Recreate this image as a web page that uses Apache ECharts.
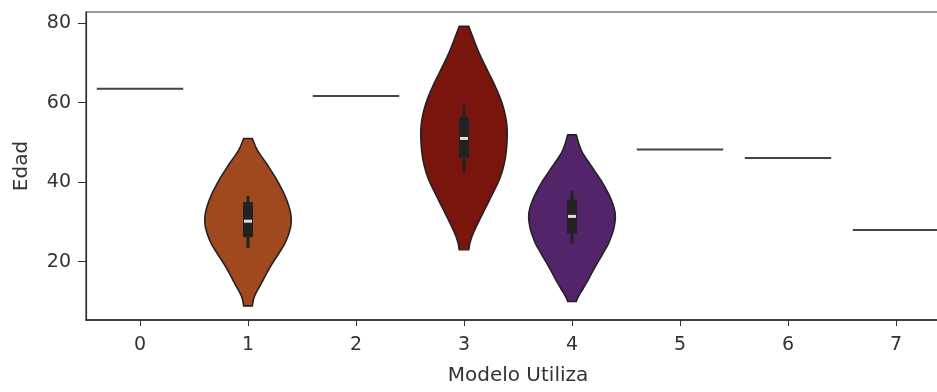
<!DOCTYPE html>
<html>
<head>
<meta charset="utf-8">
<script src="https://cdn.jsdelivr.net/npm/echarts@6/dist/echarts.min.js"></script>
<style>
  html, body { margin: 0; padding: 0; background: #fff; }
  #chart { width: 937px; height: 392px; }
</style>
</head>
<body>
<div id="chart"></div>
<script>
// ---- data ----
const categories = ['0', '1', '2', '3', '4', '5', '6', '7'];
const yTicks = [20, 40, 60, 80];

// categories with a single observation (drawn as a flat line)
const singleCats = [0, 2, 5, 6, 7];
const singleValues = [63.5, 61.7, 48.2, 46.1, 28];

// violins: outline as (age, relative half-width) pairs
const violinCats = [1, 3, 4];
const violin1Ages = [51.0, 48.0, 44.5, 40.5, 36.5, 33.0, 30.5, 28.0, 25.0, 22.9, 18.8, 14.6, 11.3, 8.9];
const violin1Dens = [0.10, 0.22, 0.44, 0.67, 0.86, 0.97, 1.0, 0.97, 0.87, 0.76, 0.52, 0.31, 0.15, 0.10];
const violin3Ages = [79.2, 73.0, 68.6, 64.4, 60.2, 56.0, 51.9, 46.3, 41.3, 36.4, 31.4, 27.3, 24.8, 23.0];
const violin3Dens = [0.11, 0.33, 0.52, 0.71, 0.87, 0.97, 1.0, 0.96, 0.84, 0.63, 0.40, 0.22, 0.14, 0.11];
const violin4Ages = [51.9, 47.9, 43.7, 39.6, 35.5, 32.0, 28.5, 25.0, 22.9, 18.8, 14.6, 11.3, 10.0];
const violin4Dens = [0.10, 0.22, 0.47, 0.72, 0.91, 1.0, 0.97, 0.86, 0.76, 0.54, 0.33, 0.15, 0.10];

// inner box stats: [whiskerLow, q1, median, q3, whiskerHigh]
const violin1Box = [23.5, 26.2, 30.2, 35.0, 36.5];
const violin3Box = [42.5, 46.1, 51.0, 56.4, 59.4];
const violin4Box = [24.6, 27.1, 31.4, 35.6, 37.7];

// ---- styling ----
const violinColors = ['#A0491E', '#7A150E', '#54246A'];
const violinAges = [violin1Ages, violin3Ages, violin4Ages];
const violinDens = [violin1Dens, violin3Dens, violin4Dens];
const violinBoxes = [violin1Box, violin3Box, violin4Box];

const FONT = 'DejaVu Sans';
const TXT = '#333333';

const chart = echarts.init(document.getElementById('chart'), null, { renderer: 'canvas' });

// smooth a pixel polyline for drawing (Catmull-Rom through the given points)
function smoothLine(pts, n) {
  const out = [];
  const L = pts.length;
  for (let i = 0; i < L - 1; i++) {
    const p0 = pts[Math.max(i - 1, 0)], p1 = pts[i], p2 = pts[i + 1], p3 = pts[Math.min(i + 2, L - 1)];
    for (let s = 0; s < n; s++) {
      const t = s / n, t2 = t * t, t3 = t2 * t;
      const f = (a, b, c, d) => 0.5 * (2 * b + (-a + c) * t + (2 * a - 5 * b + 4 * c - d) * t2 + (-a + 3 * b - 3 * c + d) * t3);
      out.push([f(p0[0], p1[0], p2[0], p3[0]), f(p0[1], p1[1], p2[1], p3[1])]);
    }
  }
  out.push(pts[L - 1]);
  return out;
}

function renderViolin(params, api) {
  const i = params.dataIndex;
  const cat = api.value(0);
  const c = api.coord([cat, api.value(1)]);
  const band = api.size([1, 0])[0];
  const half = band * 0.4;
  const ages = violinAges[i], dens = violinDens[i];
  const rightRaw = ages.map((a, k) => [c[0] + dens[k] * half, api.coord([cat, a])[1]]);
  const right = smoothLine(rightRaw, 8);
  const left = right.slice().reverse().map(p => [2 * c[0] - p[0], p[1]]);
  const pts = right.concat(left);
  const b = violinBoxes[i].map(v => api.coord([cat, v])[1]);
  const boxW = 10, medW = 8, medH = 3;
  return {
    type: 'group',
    children: [
      { type: 'polygon', shape: { points: pts },
        style: { fill: violinColors[i], stroke: '#222', lineWidth: 1.6, lineJoin: 'round' } },
      { type: 'line', shape: { x1: c[0], y1: b[0], x2: c[0], y2: b[4] },
        style: { stroke: '#222', lineWidth: 3 } },
      { type: 'rect', shape: { x: c[0] - boxW / 2, y: b[3], width: boxW, height: b[1] - b[3] },
        style: { fill: '#222' } },
      { type: 'rect', shape: { x: c[0] - medW / 2, y: b[2] - medH / 2, width: medW, height: medH },
        style: { fill: '#dddddd' } }
    ]
  };
}

function renderSingle(params, api) {
  const cat = api.value(0);
  const c = api.coord([cat, api.value(1)]);
  const band = api.size([1, 0])[0];
  const half = band * 0.4;
  return {
    type: 'line',
    shape: { x1: c[0] - half, y1: c[1], x2: c[0] + half, y2: c[1] },
    style: { stroke: '#444', lineWidth: 2 }
  };
}

const option = {
  animation: false,
  backgroundColor: '#ffffff',
  grid: {
    left: 86, width: 864, top: 12, bottom: 72,
    containLabel: false, outerBoundsMode: 'none',
    show: true, borderColor: '#333', borderWidth: 1.2, backgroundColor: 'transparent'
  },
  xAxis: {
    type: 'category',
    data: categories,
    boundaryGap: true,
    name: 'Modelo Utiliza',
    nameLocation: 'middle',
    nameGap: 46,
    nameTextStyle: { fontFamily: FONT, fontSize: 20, color: TXT },
    axisLine: { show: true, lineStyle: { color: '#222', width: 1.5 } },
    axisTick: { show: true, alignWithLabel: true, length: 6, lineStyle: { color: '#333' } },
    axisLabel: { fontFamily: FONT, fontSize: 19, color: TXT, margin: 16 },
    splitLine: { show: false }
  },
  yAxis: {
    type: 'value',
    min: 5.35,
    max: 82.8,
    name: 'Edad',
    nameLocation: 'middle',
    nameRotate: 90,
    nameGap: 54,
    nameTextStyle: { fontFamily: FONT, fontSize: 20, color: TXT },
    axisLine: { show: true, lineStyle: { color: '#333', width: 1.2 } },
    axisTick: { show: true, length: 8, customValues: yTicks, lineStyle: { color: '#333' } },
    axisLabel: { fontFamily: FONT, fontSize: 19, color: TXT, margin: 15, customValues: yTicks },
    splitLine: { show: false }
  },
  series: [
    {
      type: 'custom',
      renderItem: renderSingle,
      data: singleCats.map((c, k) => [c, singleValues[k]]),
      encode: { x: 0, y: 1 },
      z: 2
    },
    {
      type: 'custom',
      renderItem: renderViolin,
      data: violinCats.map((c, k) => [c, violinBoxes[k][2]]),
      encode: { x: 0, y: 1 },
      z: 3
    }
  ]
};
chart.setOption(option);
</script>
</body>
</html>
